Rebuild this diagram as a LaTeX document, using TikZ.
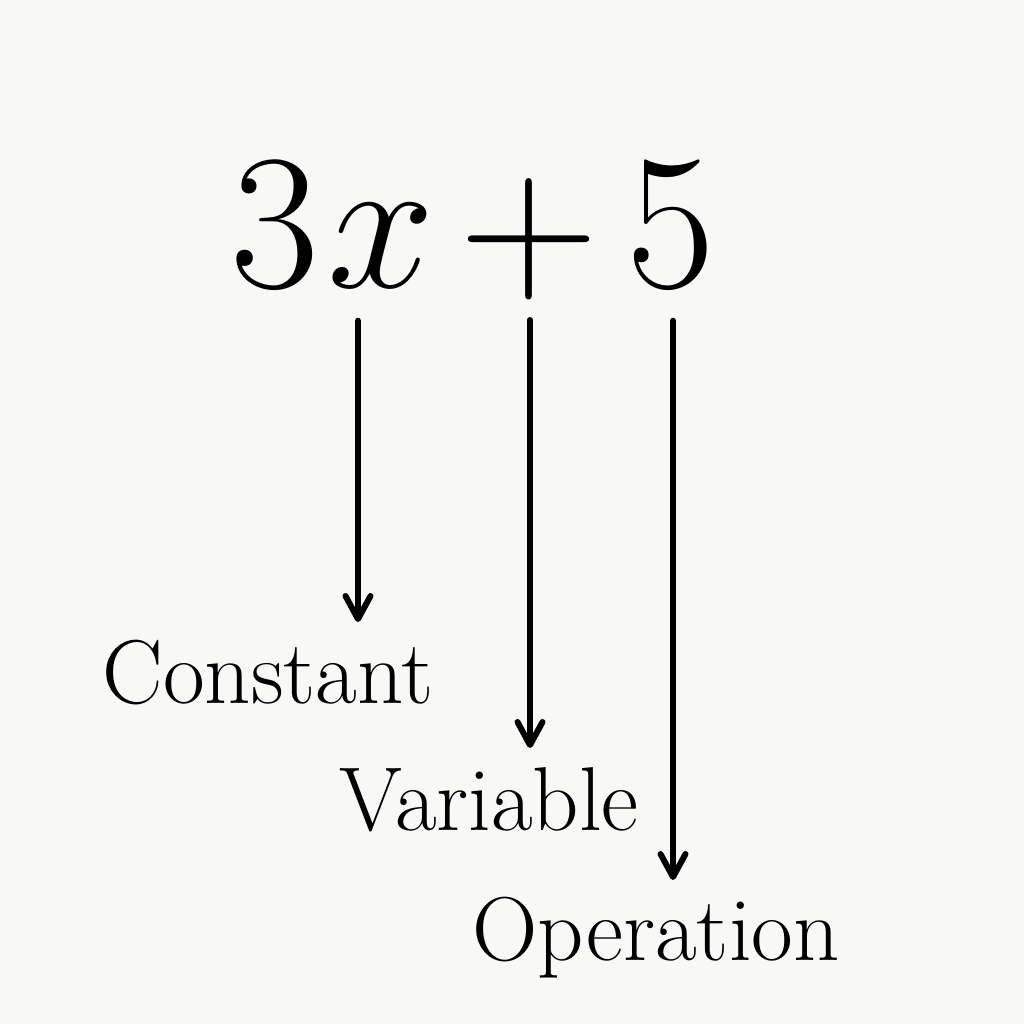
\RequirePackage{fix-cm}
\documentclass[tikz,border=0pt]{standalone}
\usepackage{amsmath}
\usepackage{tikz}
\usetikzlibrary{calc,arrows.meta}
\definecolor{paper}{RGB}{248,248,247}
\tikzset{
  term/.style={inner sep=0pt,anchor=base,font=\fontsize{55}{55}\selectfont},
  lbl/.style={inner sep=0pt,anchor=base,font=\fontsize{25.8}{26}\selectfont},
  arr/.style={line width=1.7pt,line cap=round,-{Straight Barb[length=2.3mm,width=2.5mm,line cap=round,line join=round]}}
}
\begin{document}
\begin{tikzpicture}[x=0.1mm,y=-0.1mm]
                      \fill[paper] (0,0) rectangle (1024,1024);
                      \useasboundingbox (0,0) rectangle (1024,1024);
                      \node[term](three)at(275,287){$3$};
                      \node[term](xvar)at(381,287){$x$};
                      \node[term](plus)at(529,287){$+$};
                      \node[term](five)at(671,287){$5$};
                      \node[lbl](constant)at(268,703){Constant};
                      \node[lbl](variable)at(489,830){Variable};
                      \node[lbl](operation)at(656,960){Operation};
                      \coordinate (tipc) at (358,622);
                      \coordinate (tipv) at (530,748);
                      \coordinate (tipo) at (673,880);
                      \draw[arr] ([yshift=-3.3mm]xvar.south -| tipc) -- (tipc);
                      \draw[arr] ([yshift=-3.3mm]plus.base -| tipv) -- (tipv);
                      \draw[arr] ([yshift=-3.3mm]five.south -| tipo) -- (tipo);
                  \end{tikzpicture}
\end{document}
